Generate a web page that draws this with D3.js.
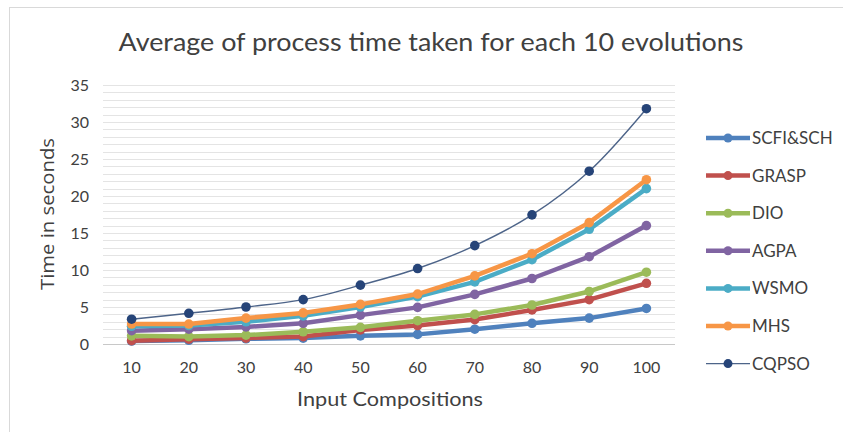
<!DOCTYPE html>
<html>
<head>
<meta charset="utf-8">
<script src="https://cdn.jsdelivr.net/npm/d3@7"></script>
<style>
  html, body { margin: 0; padding: 0; background: #ffffff; }
  svg { display: block; }
  text { fill: #404040; }
</style>
</head>
<body>
<svg id="chart" width="843" height="432"></svg>
<script>
// Input composition counts (x categories)
const categories = [10, 20, 30, 40, 50, 60, 70, 80, 90, 100];

// Average process time (seconds) per algorithm
const scfiSch = [0.4, 0.5, 0.7, 0.8, 1.1, 1.3, 2.0, 2.8, 3.5, 4.8];
const grasp   = [0.45, 0.65, 0.8, 1.0, 1.9, 2.5, 3.3, 4.6, 6.0, 8.2];
const dio     = [1.1, 1.0, 1.2, 1.65, 2.25, 3.15, 4.0, 5.27, 7.1, 9.7];
const agpa    = [1.8, 2.0, 2.3, 2.8, 3.9, 4.95, 6.7, 8.85, 11.8, 16.0];
const wsmo    = [2.4, 2.5, 3.0, 3.8, 5.0, 6.4, 8.4, 11.4, 15.5, 21.0];
const mhs     = [2.7, 2.7, 3.5, 4.2, 5.35, 6.75, 9.2, 12.2, 16.4, 22.2];
const cqpso   = [3.35, 4.15, 5.0, 6.0, 7.95, 10.2, 13.3, 17.45, 23.35, 31.8];

const seriesNames = ["SCFI&SCH", "GRASP", "DIO", "AGPA", "WSMO", "MHS", "CQPSO"];
const yTicks = [0, 5, 10, 15, 20, 25, 30, 35];

const series = [
  { name: seriesNames[0], values: scfiSch, color: "#4f81bd", width: 4.5, marker: "#4f81bd", smooth: false },
  { name: seriesNames[1], values: grasp,   color: "#c0504d", width: 4.5, marker: "#c0504d", smooth: false },
  { name: seriesNames[2], values: dio,     color: "#9bbb59", width: 4.5, marker: "#9bbb59", smooth: false },
  { name: seriesNames[3], values: agpa,    color: "#8064a2", width: 4.5, marker: "#8064a2", smooth: false },
  { name: seriesNames[4], values: wsmo,    color: "#4bacc6", width: 4.5, marker: "#4bacc6", smooth: false },
  { name: seriesNames[5], values: mhs,     color: "#f79646", width: 4.5, marker: "#f79646", smooth: false },
  { name: seriesNames[6], values: cqpso,   color: "#4d6489", width: 1.4, marker: "#264478", smooth: true }
];

const svg = d3.select("#chart");

// Chart frame
svg.append("rect")
  .attr("x", 9.5).attr("y", 7.5)
  .attr("width", 900).attr("height", 500)
  .attr("fill", "#ffffff")
  .attr("stroke", "#d9d9d9")
  .attr("stroke-width", 1);

const plot = { left: 103, right: 675, top: 85, bottom: 344 };

const x = d3.scaleBand()
  .domain(categories)
  .range([plot.left, plot.right])
  .padding(0);
const cx = c => x(c) + x.bandwidth() / 2;

const y = d3.scaleLinear()
  .domain([0, 35])
  .range([plot.bottom, plot.top]);

// Horizontal gridlines at every unit
svg.append("g")
  .selectAll("line")
  .data(d3.range(1, 36))
  .join("line")
  .attr("x1", plot.left).attr("x2", plot.right)
  .attr("y1", d => Math.round(y(d)) + 0.5)
  .attr("y2", d => Math.round(y(d)) + 0.5)
  .attr("stroke", "#e4e4e4")
  .attr("stroke-width", 1.2);

// Baseline
svg.append("line")
  .attr("x1", plot.left).attr("x2", plot.right)
  .attr("y1", Math.round(y(0)) + 0.5).attr("y2", Math.round(y(0)) + 0.5)
  .attr("stroke", "#c8c8c8")
  .attr("stroke-width", 1.2);

// Y axis labels
const yAxis = d3.axisLeft(y).tickValues(yTicks).tickSize(0).tickPadding(0);
const gy = svg.append("g")
  .attr("transform", `translate(${plot.left - 14},0)`)
  .call(yAxis);
gy.select(".domain").remove();
gy.selectAll("text")
  .attr("font-family", "'Liberation Sans Narrow', Lato, sans-serif")
  .attr("font-size", 16)
  .attr("fill", "#404040");

// X axis labels
const xAxis = d3.axisBottom(x).tickSize(0).tickPadding(0);
const gx = svg.append("g")
  .attr("transform", `translate(0,${plot.bottom + 18})`)
  .call(xAxis);
gx.select(".domain").remove();
gx.selectAll("text")
  .attr("font-family", "'Liberation Sans Narrow', Lato, sans-serif")
  .attr("font-size", 16)
  .attr("fill", "#404040");

// Series lines and markers
const linePoly = d3.line().x(d => cx(d.c)).y(d => y(d.v));
const lineSmooth = d3.line().x(d => cx(d.c)).y(d => y(d.v)).curve(d3.curveCatmullRom.alpha(0.5));

series.forEach(s => {
  const pts = categories.map((c, i) => ({ c, v: s.values[i] }));
  const g = svg.append("g");
  g.append("path")
    .attr("d", (s.smooth ? lineSmooth : linePoly)(pts))
    .attr("fill", "none")
    .attr("stroke", s.color)
    .attr("stroke-width", s.width)
    .attr("stroke-linejoin", "round")
    .attr("stroke-linecap", "round");
  g.selectAll("circle")
    .data(pts)
    .join("circle")
    .attr("cx", d => cx(d.c))
    .attr("cy", d => y(d.v))
    .attr("r", 4.8)
    .attr("fill", s.marker);
});

// Title
svg.append("text")
  .attr("x", 431).attr("y", 51)
  .attr("text-anchor", "middle")
  .attr("font-family", "'Liberation Sans Narrow', Lato, sans-serif")
  .attr("font-size", 25)
  .attr("textLength", 625)
  .attr("lengthAdjust", "spacingAndGlyphs")
  .attr("fill", "#1a1a1a")
  .text("Average of process time taken for each 10 evolutions");

// Axis titles
svg.append("text")
  .attr("transform", "translate(54,214) rotate(-90)")
  .attr("text-anchor", "middle")
  .attr("font-family", "'Open Sans', sans-serif")
  .attr("font-size", 18)
  .attr("textLength", 152)
  .attr("lengthAdjust", "spacingAndGlyphs")
  .attr("fill", "#262626")
  .text("Time in seconds");

svg.append("text")
  .attr("x", 390).attr("y", 406)
  .attr("text-anchor", "middle")
  .attr("font-family", "'Liberation Sans Narrow', Lato, sans-serif")
  .attr("font-size", 19)
  .attr("textLength", 186)
  .attr("lengthAdjust", "spacingAndGlyphs")
  .attr("fill", "#262626")
  .text("Input Compositions");

// Legend
const legend = svg.append("g");
series.forEach((s, i) => {
  const ly = 138 + i * 37.6;
  const row = legend.append("g").attr("transform", `translate(0,${ly})`);
  row.append("line")
    .attr("x1", 706).attr("x2", 750)
    .attr("y1", 0).attr("y2", 0)
    .attr("stroke", s.color)
    .attr("stroke-width", s.width);
  row.append("circle")
    .attr("cx", 728).attr("cy", 0).attr("r", 4.5)
    .attr("fill", s.marker);
  row.append("text")
    .attr("x", 752).attr("y", 0)
    .attr("dy", "0.35em")
    .attr("font-family", "'Liberation Sans Narrow', Lato, sans-serif")
    .attr("font-size", 17)
    .attr("fill", "#262626")
    .text(s.name);
});
</script>
</body>
</html>
